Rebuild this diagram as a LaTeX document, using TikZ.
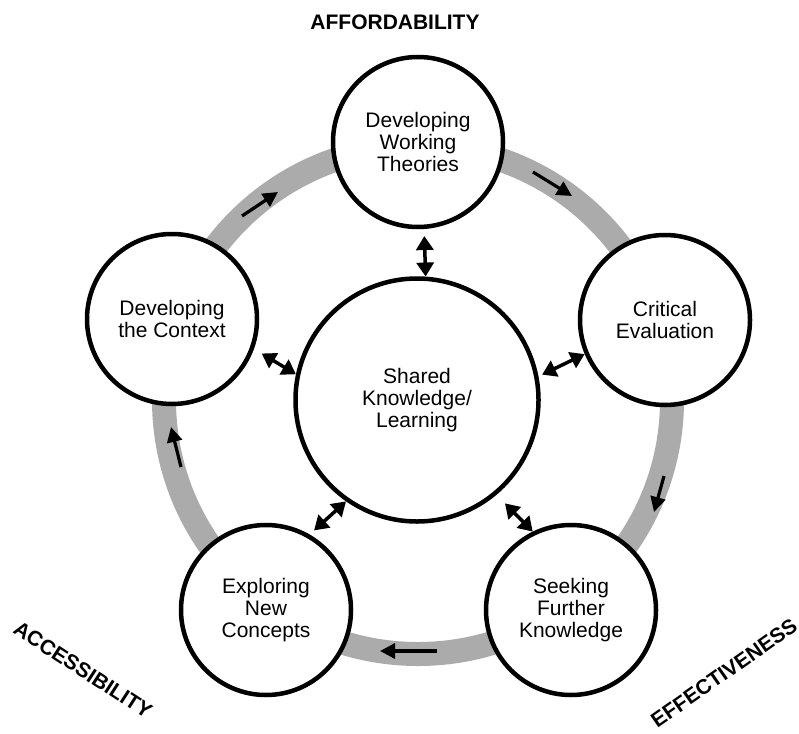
\documentclass[tikz,border=0pt]{standalone}
\usepackage{fontspec}
\setmainfont{Liberation Sans}
\usetikzlibrary{arrows.meta}
\begin{document}
\begin{tikzpicture}[x=1pt,y=-1pt,
  stage/.style={circle,draw=black,line width=4.5pt,fill=white,minimum size=170pt,inner sep=0pt,align=center,font=\fontsize{21}{22}\selectfont},
  hub/.style={stage,minimum size=243pt},
  dbl/.style={line width=3.5pt,{Triangle[length=14pt,width=17pt]}-{Triangle[length=14pt,width=17pt]}},
  flow/.style={line width=3.2pt,-{Triangle[length=15pt,width=15pt]}},
  side/.style={font=\fontsize{21}{22}\selectfont\bfseries}]
\useasboundingbox (0,0) rectangle (799,733);
% grey cycle ring
\draw[line width=24pt, black!33] (418,400) circle[radius=254pt];
% circles
\node[hub] (C) at (417,400) {Shared\\Knowledge/\\Learning};
\node[stage] (T) at (418,142) {Developing\\Working\\Theories};
\node[stage] (R) at (665,320) {Critical\\Evaluation};
\node[stage] (BR) at (571,610) {Seeking\\Further\\Knowledge};
\node[stage] (BL) at (266,610) {Exploring\\New\\Concepts};
\node[stage] (L) at (172,319) {Developing\\the Context};
% double arrows between hub and stages
\draw[dbl, shorten <=7pt] (T.-86) -- (C.86);
\draw[dbl, shorten <=4pt] (C.11) -- (R.-157);
\draw[dbl, shorten <=9pt] (L.-20) -- (C.168);
\draw[dbl, shorten >=6pt] (C.-125) -- (BL.60);
\draw[dbl, shorten <=12pt] (C.-50) -- (BR.116);
% flow arrows on the ring
\draw[flow] (533,172) -- (572,196);
\draw[flow] (664,476) -- (654,512);
\draw[flow] (437,651) -- (380,651);
\draw[flow] (181,467) -- (171,427);
\draw[flow] (242,216) -- (278,192);
% side labels
\node[side] (aff) at (395,22) {AFFORDABILITY};
\node[side,rotate=-33] (acc) at (83,670) {ACCESSIBILITY};
\node[side,rotate=35] (eff) at (724,673) {EFFECTIVENESS};
\end{tikzpicture}
\end{document}
